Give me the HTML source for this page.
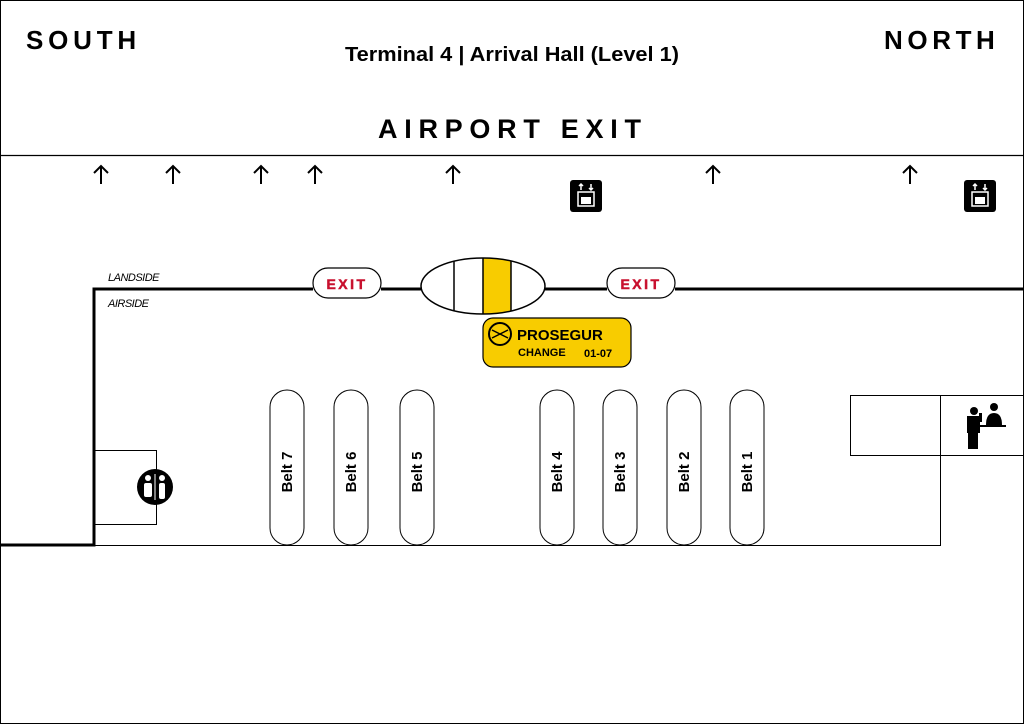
<!DOCTYPE html>
<html><head><meta charset="utf-8"><style>
body{margin:0;background:#fff}
svg{display:block}
text{font-family:"Liberation Sans",Arial,sans-serif}
</style></head><body>
<svg width="1024" height="724" viewBox="0 0 1024 724" xmlns="http://www.w3.org/2000/svg">
<rect x="0.5" y="0.5" width="1023" height="723" fill="#fff" stroke="#000" stroke-width="1"/>
<text x="26" y="49" font-size="26" font-weight="bold" letter-spacing="4.8">SOUTH</text>
<text x="884" y="49" font-size="26" font-weight="bold" letter-spacing="4.6">NORTH</text>
<text x="512" y="61" font-size="20" font-weight="bold" text-anchor="middle" textLength="334" lengthAdjust="spacingAndGlyphs">Terminal 4 | Arrival Hall (Level 1)</text>
<text x="378" y="138" font-size="27" font-weight="bold" letter-spacing="6" textLength="269">AIRPORT EXIT</text>
<line x1="0" y1="155.5" x2="1024" y2="155.5" stroke="#000" stroke-width="1.2"/>
<g stroke="#000" stroke-width="2" fill="none">
<path d="M101 184V166M94 173L101 166L108 173"/>
<path d="M173 184V166M166 173L173 166L180 173"/>
<path d="M261 184V166M254 173L261 166L268 173"/>
<path d="M315 184V166M308 173L315 166L322 173"/>
<path d="M453 184V166M446 173L453 166L460 173"/>
<path d="M713 184V166M706 173L713 166L720 173"/>
<path d="M910 184V166M903 173L910 166L917 173"/>
</g>
<g id="lift">
<rect x="570" y="180" width="32" height="32" rx="3" fill="#000"/>
<rect x="578" y="192" width="16" height="14" fill="none" stroke="#fff" stroke-width="1.5"/>
<path d="M581 190V184M579 186L581 184L583 186M591 184V190M589 188L591 190L593 188" stroke="#fff" stroke-width="1.5" fill="none"/>
<rect x="581" y="197" width="10" height="7" fill="#fff"/>
</g>
<use href="#lift" x="394" y="0"/>
<path d="M0 545H94V289H313" stroke="#000" stroke-width="3" fill="none"/>
<line x1="381" y1="289" x2="422" y2="289" stroke="#000" stroke-width="3"/>
<line x1="545" y1="289" x2="607" y2="289" stroke="#000" stroke-width="3"/>
<line x1="675" y1="289" x2="1024" y2="289" stroke="#000" stroke-width="3"/>
<text x="108" y="281" font-size="11" font-style="italic" letter-spacing="-0.5">LANDSIDE</text>
<text x="108" y="307" font-size="11" font-style="italic" letter-spacing="-0.5">AIRSIDE</text>
<rect x="313" y="268" width="68" height="30" rx="15" fill="#fff" stroke="#000" stroke-width="1.2"/>
<text x="347" y="289" font-size="14" font-weight="bold" fill="#c8102e" text-anchor="middle" letter-spacing="2.5" stroke="#c8102e" stroke-width="0.5">EXIT</text>
<rect x="607" y="268" width="68" height="30" rx="15" fill="#fff" stroke="#000" stroke-width="1.2"/>
<text x="641" y="289" font-size="14" font-weight="bold" fill="#c8102e" text-anchor="middle" letter-spacing="2.5" stroke="#c8102e" stroke-width="0.5">EXIT</text>
<defs><clipPath id="ec"><ellipse cx="483" cy="286" rx="62" ry="28"/></clipPath></defs>
<rect x="483" y="250" width="28" height="80" fill="#f8cc00" clip-path="url(#ec)"/>
<g clip-path="url(#ec)" stroke="#000" stroke-width="1.5"><line x1="454" y1="250" x2="454" y2="320"/><line x1="483" y1="250" x2="483" y2="320"/><line x1="511" y1="250" x2="511" y2="320"/></g>
<ellipse cx="483" cy="286" rx="62" ry="28" fill="none" stroke="#000" stroke-width="1.5"/>
<rect x="483" y="318" width="148" height="49" rx="10" fill="#f8cc00" stroke="#000" stroke-width="1.2"/>
<circle cx="500" cy="334" r="11" fill="none" stroke="#000" stroke-width="2"/>
<path d="M492 330L508 338M492 338L508 330" stroke="#000" stroke-width="1.5"/>
<text x="517" y="340" font-size="15" font-weight="bold">PROSEGUR</text>
<text x="518" y="356" font-size="11" font-weight="bold">CHANGE</text>
<text x="584" y="357" font-size="11" font-weight="bold">01-07</text>
<path d="M94 545.5H940.5V395" stroke="#000" stroke-width="1" fill="none"/>
<rect x="850.5" y="395.5" width="173" height="60" fill="none" stroke="#000" stroke-width="1"/>
<line x1="940.5" y1="395" x2="940.5" y2="456" stroke="#000"/>
<rect x="94.5" y="450.5" width="62" height="74" fill="none" stroke="#000" stroke-width="1"/>
<circle cx="155" cy="487" r="18" fill="#000"/>
<g fill="#fff"><circle cx="148" cy="478" r="3"/><rect x="144" y="483" width="8" height="14" rx="2"/><circle cx="162" cy="478" r="3"/><rect x="159" y="483" width="6" height="16" rx="2"/></g>
<line x1="155" y1="474" x2="155" y2="500" stroke="#fff"/>
<g fill="#000"><circle cx="974" cy="411" r="4"/><rect x="967" y="416" width="13" height="17"/><rect x="968" y="432" width="10" height="17"/><circle cx="994" cy="407" r="4"/><path d="M986 425Q986 413 994 413Q1002 413 1002 425Z"/><rect x="980" y="425" width="26" height="2"/><rect x="979" y="413" width="3" height="9"/></g>
<g fill="#fff" stroke="#000" stroke-width="1">
<rect x="270" y="390" width="34" height="155" rx="17"/>
<rect x="334" y="390" width="34" height="155" rx="17"/>
<rect x="400" y="390" width="34" height="155" rx="17"/>
<rect x="540" y="390" width="34" height="155" rx="17"/>
<rect x="603" y="390" width="34" height="155" rx="17"/>
<rect x="667" y="390" width="34" height="155" rx="17"/>
<rect x="730" y="390" width="34" height="155" rx="17"/>
</g>
<g font-size="15" font-weight="bold" text-anchor="middle">
<text transform="translate(292,472) rotate(-90)">Belt 7</text>
<text transform="translate(356,472) rotate(-90)">Belt 6</text>
<text transform="translate(422,472) rotate(-90)">Belt 5</text>
<text transform="translate(562,472) rotate(-90)">Belt 4</text>
<text transform="translate(625,472) rotate(-90)">Belt 3</text>
<text transform="translate(689,472) rotate(-90)">Belt 2</text>
<text transform="translate(752,472) rotate(-90)">Belt 1</text>
</g>
</svg>
</body></html>
